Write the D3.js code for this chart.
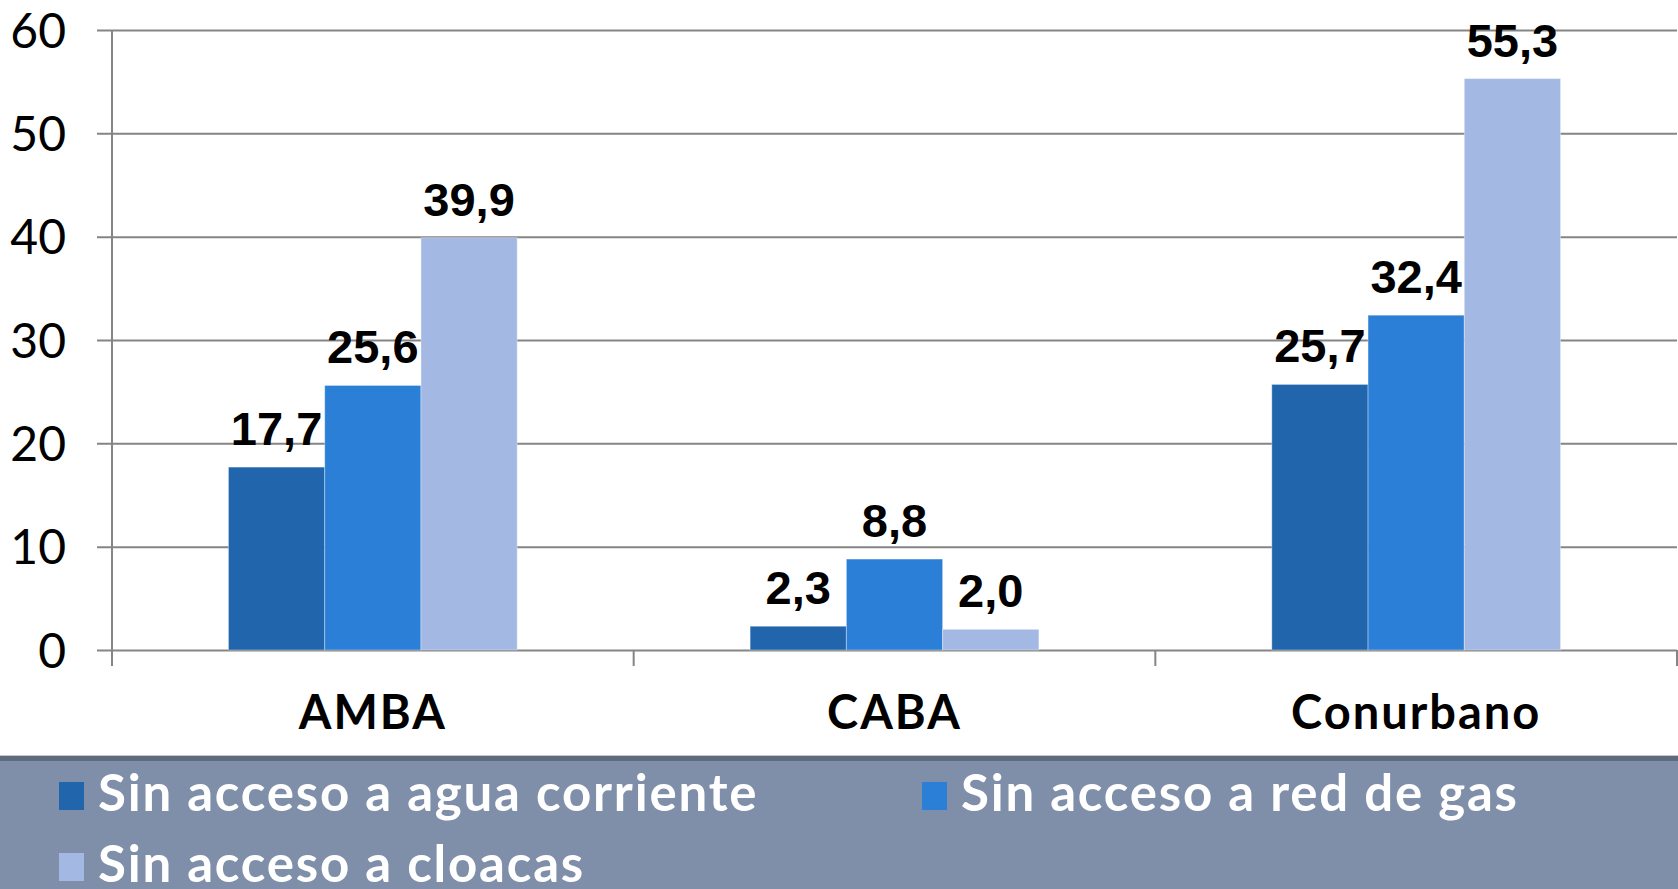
<!DOCTYPE html>
<html lang="es">
<head>
<meta charset="UTF-8">
<title>Sin acceso a servicios</title>
<script src="https://d3js.org/d3.v7.min.js"></script>
<style>
  body { margin: 0; background: #fff; }
  .tick text { font-family: Lato, "Open Sans", sans-serif; }
  .lbl { font-family: "Liberation Sans", Arial, sans-serif; font-weight: bold; font-size: 47px; fill: #000; }
  .leg { font-family: Lato, "Open Sans", sans-serif; font-weight: bold; font-size: 51px; fill: #fff; letter-spacing: 1.8px; }
</style>
</head>
<body>
<svg width="1678" height="889"></svg>
<script>
var categories = ['AMBA', 'CABA', 'Conurbano']
var series = ['Sin acceso a agua corriente', 'Sin acceso a red de gas', 'Sin acceso a cloacas']
var aguaValues = [17.7, 2.3, 25.7]
var gasValues = [25.6, 8.8, 32.4]
var cloacaValues = [39.9, 2.0, 55.3]
var yTicks = [0, 10, 20, 30, 40, 50, 60]
var colors = ['#2166ad', '#2b7fd7', '#a3b9e4']

var values = [aguaValues, gasValues, cloacaValues]
var svg = d3.select('svg')

var plotLeft = 112, plotRight = 1677, plotTop = 30, plotBottom = 650

var x = d3.scaleBand()
  .domain(categories)
  .range([plotLeft, plotRight])

var xs = d3.scaleBand()
  .domain(series)
  .range([0, x.bandwidth()])
  .paddingOuter(1.21)

var y = d3.scaleLinear()
  .domain([0, 60])
  .range([plotBottom, plotTop])

// gridlines
svg.append('g')
  .attr('transform', `translate(${plotLeft - 15},0)`)
  .call(d3.axisRight(y).tickValues(yTicks).tickSize(plotRight - plotLeft + 15).tickFormat(''))
  .call(g => g.select('.domain').remove())
  .call(g => g.selectAll('line').attr('stroke', '#858585').attr('stroke-width', 2))

// y labels
svg.append('g')
  .attr('transform', `translate(${plotLeft},0)`)
  .call(d3.axisLeft(y).tickValues(yTicks).tickSize(0).tickPadding(46))
  .call(g => g.select('.domain').remove())
  .call(g => g.selectAll('text').attr('font-size', 48).attr('fill', '#000').attr('dy', '0.36em'))

// y axis line
svg.append('line')
  .attr('x1', plotLeft).attr('x2', plotLeft)
  .attr('y1', y(60)).attr('y2', y(0) + 16)
  .attr('stroke', '#858585').attr('stroke-width', 2)

// bars
categories.forEach((c, i) => {
  series.forEach((s, j) => {
    var v = values[j][i]
    svg.append('rect')
      .attr('x', x(c) + xs(s))
      .attr('y', y(v))
      .attr('width', xs.bandwidth())
      .attr('height', y(0) - y(v))
      .attr('fill', colors[j])
      .attr('stroke', 'rgba(255,255,255,0.35)')
      .attr('stroke-width', 1)

    svg.append('text')
      .attr('class', 'lbl')
      .attr('text-anchor', 'middle')
      .attr('x', x(c) + xs(s) + xs.bandwidth() / 2)
      .attr('y', y(v) - 22)
      .text(v.toFixed(1).replace('.', ','))
  })
})

// x axis
var xAxis = svg.append('g')
  .attr('transform', `translate(0,${plotBottom})`)
  .call(d3.axisBottom(x).tickSize(0))
  .call(g => g.select('.domain').remove())
  .call(g => g.selectAll('text')
    .attr('font-size', 47).attr('font-weight', 'bold').attr('fill', '#000')
    .attr('letter-spacing', 2)
    .attr('y', 79).attr('dy', 0))

var bounds = categories.map(c => x(c)).concat([x.range()[1]])
xAxis.selectAll('.bound')
  .data(bounds)
  .join('line')
  .attr('class', 'bound')
  .attr('x1', d => d).attr('x2', d => d)
  .attr('y1', 0).attr('y2', 16)
  .attr('stroke', '#858585').attr('stroke-width', 2)

// legend
var legTop = 755
svg.append('rect').attr('x', 0).attr('y', legTop).attr('width', 1678).attr('height', 889 - legTop).attr('fill', '#7f8fa9')
svg.append('rect').attr('x', 0).attr('y', legTop).attr('width', 1678).attr('height', 1).attr('fill', '#c4c8ce')
svg.append('rect').attr('x', 0).attr('y', legTop + 1).attr('width', 1678).attr('height', 5).attr('fill', '#5e6a7e')

var legPos = [[59, 782], [922, 782], [59, 853]]
series.forEach((s, j) => {
  var g = svg.append('g').attr('transform', `translate(${legPos[j][0]},${legPos[j][1]})`)
  g.append('rect').attr('width', 25).attr('height', 28).attr('fill', colors[j])
  g.append('text')
    .attr('class', 'leg')
    .attr('x', 39)
    .attr('y', 29)
    .text(s)
})
</script>
</body>
</html>
